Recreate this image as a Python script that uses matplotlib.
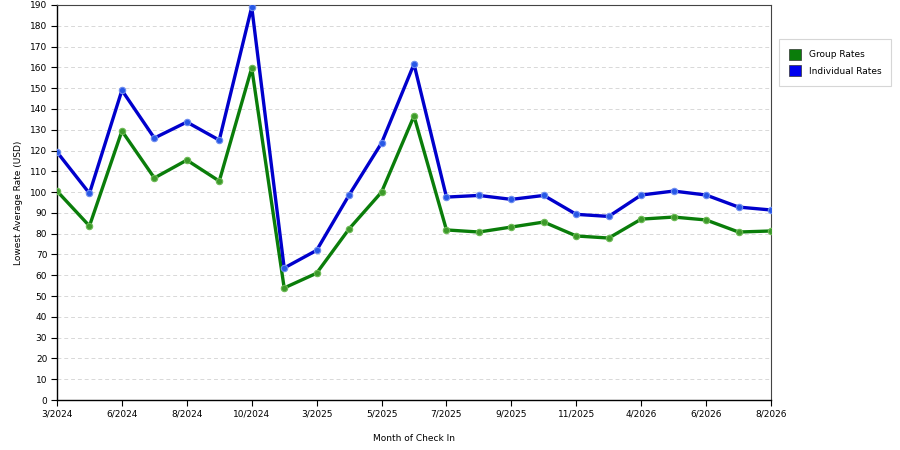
import matplotlib
matplotlib.use('Agg')
from matplotlib import pyplot as plt
from matplotlib.patches import Patch

months = ['3/2024', '4/2024', '6/2024', '7/2024', '8/2024', '9/2024', '10/2024', '11/2024',
          '3/2025', '4/2025', '5/2025', '6/2025', '7/2025', '8/2025', '9/2025', '10/2025',
          '11/2025', '12/2025', '4/2026', '5/2026', '6/2026', '7/2026', '8/2026']
group_rates = [100.5, 83.7, 129.4, 106.8, 115.4, 105.3, 159.7, 53.9, 61, 82.3, 100, 136.6,
               81.8, 80.8, 83.2, 85.6, 78.9, 77.9, 87, 88, 86.6, 80.8, 81.3]
individual_rates = [119.3, 99.4, 149, 126, 133.7, 125, 189, 63.5, 72, 98.6, 123.6, 161.6,
                    97.6, 98.4, 96.5, 98.4, 89.3, 88.3, 98.6, 100.5, 98.6, 92.8, 91.4]
yticks = list(range(0, 191, 10))

plt.rcParams['font.family'] = ['DejaVu Sans']
fig = plt.figure(figsize=(9, 4.5), dpi=100)
ax = fig.add_axes([57 / 900, 50 / 450, 714 / 900, 395 / 450])

x = list(range(len(months)))
ax.plot(x, group_rates, color='#0a7d0a', lw=2.4, marker='o', ms=4.6,
        mfc='#3d9a2a', mec='#6cba55', mew=0.8, zorder=3)
ax.plot(x, individual_rates, color='#0000cc', lw=2.4, marker='o', ms=4.6,
        mfc='#2858e6', mec='#6f8ef0', mew=0.8, zorder=3)

ax.set_xlim(0, len(months) - 1)
ax.set_ylim(0, 190)
ax.set_xticks(x[::2])
ax.set_xticklabels(months[::2], fontsize=6.5)
ax.set_yticks(yticks)
ax.set_yticklabels([str(v) for v in yticks], fontsize=6.5)
ax.tick_params(length=4, width=0.8, pad=3)
ax.grid(axis='y', color='#d8d8d8', ls=(0, (4, 3)), lw=0.7)
ax.set_axisbelow(True)
for s in ['top', 'right']:
    ax.spines[s].set_color('#444444')
    ax.spines[s].set_linewidth(0.8)
for s in ['left', 'bottom']:
    ax.spines[s].set_color('black')
    ax.spines[s].set_linewidth(1.0)

ax.set_xlabel('Month of Check In', fontsize=6.5, labelpad=11)
ax.set_ylabel('Lowest Average Rate (USD)', fontsize=6.5, labelpad=5)

handles = [Patch(facecolor='#0a7d0a', edgecolor='#333333', lw=0.5, label='Group Rates'),
           Patch(facecolor='#0000ee', edgecolor='#333333', lw=0.5, label='Individual Rates')]
leg = fig.legend(handles=handles, loc='upper left', bbox_to_anchor=(779 / 900, 1 - 39 / 450),
                 borderaxespad=0, fontsize=6.5, frameon=True, fancybox=False,
                 handlelength=1.3, handleheight=1.5, handletextpad=0.9,
                 borderpad=1.1, labelspacing=0.6)
leg.get_frame().set_edgecolor('#cccccc')
leg.get_frame().set_linewidth(0.8)

fig.savefig('out.png', dpi=100)
